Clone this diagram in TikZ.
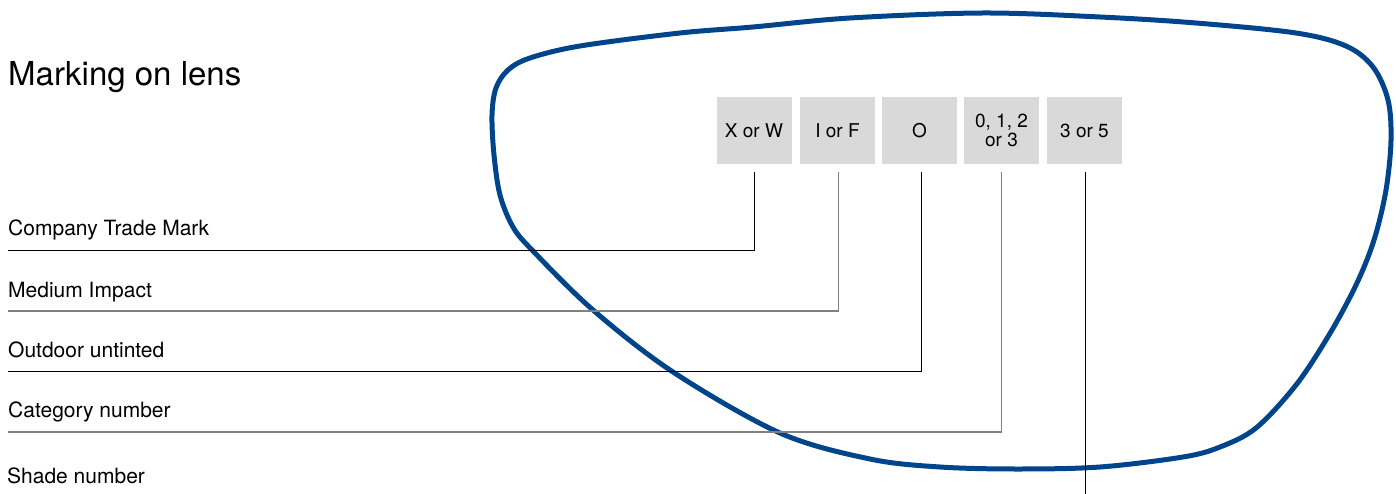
\documentclass[tikz,border=0pt]{standalone}
\usepackage{fontspec}
\setmainfont{TeX Gyre Heros}
\definecolor{lensblue}{HTML}{00458B}
\definecolor{boxgray}{HTML}{D9D9D9}
\begin{document}
\begin{tikzpicture}[x=1pt,y=-1pt,
  markbox/.style={fill=boxgray, minimum width=75pt, minimum height=67pt, inner sep=0pt,
    font=\fontsize{19}{19}\selectfont, align=center},
  labeltext/.style={anchor=base west, inner sep=0pt, font=\fontsize{21}{24}\selectfont},
  leader/.style={line width=1pt, black, shorten <=8pt},
  leadergray/.style={line width=1.4pt, black!50, shorten <=8pt},
  lens/.style={draw=lensblue, line width=5pt}]
\useasboundingbox (0,0) rectangle (1396,494);

% lens outline
\draw[lens] plot[smooth cycle, tension=0.55] coordinates {
 (680,33) (753,27) (850,18) (983,13) (1100,17) (1196,23) (1296,33)
 (1346,46) (1373,67) (1388,100) (1391,140) (1386,190) (1374,240)
 (1356,285) (1329,335) (1296,385) (1256,428) (1220,447) (1183,457)
 (1100,467) (1017,469) (940,467) (870,459) (780,433) (673,372)
 (593,310) (533,251) (513,227) (500,195) (494,155) (492,115)
 (496,88) (508,70) (530,58) (580,46)};

% title
\node[anchor=base west, inner sep=0pt, font=\fontsize{33}{38}\selectfont] (title) at (8,86) {Marking on lens};

% marking boxes
\node[markbox] (b1) at (754,130.5) {X or W};
\node[markbox] (b2) at (837.5,130.5) {I or F};
\node[markbox] (b3) at (919.5,130.5) {O};
\node[markbox] (b4) at (1001.5,130.5) {0, 1, 2\\or 3};
\node[markbox] (b5) at (1084.5,130.5) {3 or 5};

% labels
\node[labeltext] (t1) at (8,236) {Company Trade Mark};
\node[labeltext] (t2) at (8,297) {Medium Impact};
\node[labeltext] (t3) at (8,357) {Outdoor untinted};
\node[labeltext] (t4) at (8,417) {Category number};
\node[labeltext] (t5) at (7,483) {Shade number};

% leader line ends
\coordinate (l1) at (8,250);
\coordinate (l2) at (8,311);
\coordinate (l3) at (8,371);
\coordinate (l4) at (8,432);
\coordinate (l5) at (1085.5,494);

\draw[leader] (b1.south) |- (l1);
\draw[leadergray] ([xshift=1pt]b2.south) |- (l2);
\draw[leader] ([xshift=2pt]b3.south) |- (l3);
\draw[leadergray] (b4.south) |- (l4);
\draw[leader] ([xshift=1pt]b5.south) -- (l5);
\end{tikzpicture}
\end{document}
